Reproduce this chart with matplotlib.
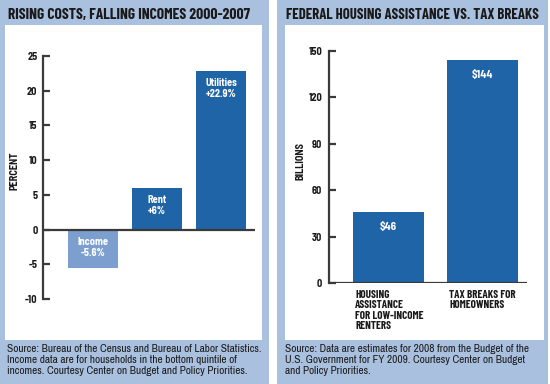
import matplotlib
matplotlib.use("Agg")
import matplotlib.pyplot as plt
from matplotlib.patches import Rectangle
from matplotlib import transforms

# ---------------- data ----------------
left_title = "RISING COSTS, FALLING INCOMES 2000-2007"
left_categories = ["Income", "Rent", "Utilities"]
left_values = [-5.6, 6.0, 22.9]
left_value_labels = ["-5.6%", "+6%", "+22.9%"]
left_ticks = [-10, -5, 0, 5, 10, 15, 20, 25]
left_ylabel = "PERCENT"
left_source = ("Source: Bureau of the Census and Bureau of Labor Statistics.\n"
               "Income data are for households in the bottom quintile of\n"
               "incomes. Courtesy Center on Budget and Policy Priorities.")

right_title = "FEDERAL HOUSING ASSISTANCE VS. TAX BREAKS"
right_categories = ["HOUSING\nASSISTANCE\nFOR LOW-INCOME\nRENTERS", "TAX BREAKS FOR\nHOMEOWNERS"]
right_values = [46, 144]
right_value_labels = ["$46", "$144"]
right_ticks = [0, 30, 60, 90, 120, 150]
right_ylabel = "BILLIONS"
right_source = ("Source: Data are estimates for 2008 from the Budget of the\n"
                "U.S. Government for FY 2009. Courtesy Center on Budget\n"
                "and Policy Priorities.")

# ---------------- style ----------------
PANEL = "#a9c0df"
BAR = "#1f64a6"
BAR_LIGHT = "#7c9fcf"
DARK = "#3a3a3a"
INK = "#1a1a1a"
W, H = 550, 384
TITLE_FONT = ["Barlow Condensed", "DejaVu Sans"]
SRC_FONT = ["Archivo Narrow", "DejaVu Sans"]
LBL_FONT = ["Barlow Semi Condensed", "DejaVu Sans"]

fig = plt.figure(figsize=(W / 100, H / 100), dpi=100)
fig.patch.set_facecolor("white")


def fx(x):
    return x / W


def fy(y):
    return 1 - y / H


def rect(x0, y0, x1, y1, color):
    fig.patches.append(Rectangle((x0 / W, 1 - y1 / H), (x1 - x0) / W, (y1 - y0) / H,
                                 transform=fig.transFigure, facecolor=color,
                                 edgecolor="none", zorder=-10))


# panels
rect(0, 0, 269, 384, PANEL)
rect(5, 25, 262, 340, "white")
rect(277, 0, 548, 384, PANEL)
rect(285, 25, 544, 340, "white")

# titles
fig.text(fx(8), fy(15), left_title, family=TITLE_FONT, weight="bold", fontsize=11.2,
         color=INK, va="center", ha="left")
fig.text(fx(286), fy(15), right_title, family=TITLE_FONT, weight="bold", fontsize=10.7,
         color=INK, va="center", ha="left")

# sources
fig.text(fx(7), fy(344), left_source, family=SRC_FONT, fontsize=8.1, color=INK,
         va="top", ha="left", linespacing=1.15)
fig.text(fx(285), fy(344), right_source, family=SRC_FONT, fontsize=8.1, color=INK,
         va="top", ha="left", linespacing=1.15)

# axis titles
fig.text(fx(14), fy(171), left_ylabel, family=LBL_FONT, weight="bold", fontsize=7.5,
         color=INK, rotation=90, ha="center", va="center")
fig.text(fx(300), fy(161), right_ylabel, family=LBL_FONT, weight="bold", fontsize=7.5,
         color=INK, rotation=90, ha="center", va="center")


def make_axes(spine_x, right_x, top_px, bottom_px, v_hi, y_hi, v_lo, y_lo,
              first_center, spacing):
    ppu = (y_lo - y_hi) / (v_hi - v_lo)
    ytop = v_hi + (y_hi - top_px) / ppu
    ybot = v_lo - (bottom_px - y_lo) / ppu
    ax = fig.add_axes([fx(spine_x), fy(bottom_px), (right_x - spine_x) / W,
                       (bottom_px - top_px) / H])
    ax.set_ylim(ybot, ytop)
    ax.set_xlim(-(first_center - spine_x) / spacing, (right_x - first_center) / spacing)
    ax.patch.set_alpha(0)
    for s in ["top", "right", "bottom"]:
        ax.spines[s].set_visible(False)
    ax.spines["left"].set_color(DARK)
    ax.spines["left"].set_linewidth(1.6)
    ax.spines["left"].set_bounds(v_lo, v_hi)
    ax.tick_params(axis="y", direction="in", length=5, width=1.6, color=DARK,
                   labelsize=7.5, pad=4, labelcolor=INK)
    ax.set_xticks([])
    return ax


# ---------------- left chart ----------------
axL = make_axes(43, 255, 40, 310, 25, 56, -10, 299, 93, 64)
xs = list(range(len(left_categories)))
colors = [BAR_LIGHT if v < 0 else BAR for v in left_values]
axL.bar(xs, left_values, width=50 / 64, color=colors, zorder=2)
axL.axhline(0, color=DARK, lw=1.6, zorder=3)
axL.set_yticks(left_ticks)
axL.set_yticklabels([str(t) for t in left_ticks], fontweight="bold", family=LBL_FONT)
for x, v, c, lab in zip(xs, left_values, left_categories, left_value_labels):
    top = max(v, 0)
    axL.annotate(c + "\n" + lab, (x, top), xytext=(0, -5), textcoords="offset points",
                 ha="center", va="top", color="white", fontsize=7.5, family=LBL_FONT,
                 fontweight="bold", linespacing=1.15, zorder=4)

# ---------------- right chart ----------------
axR = make_axes(329, 527, 40, 283, 150, 51, 0, 283, 388.5, 94)
xr = list(range(len(right_categories)))
axR.bar(xr, right_values, width=71 / 94, color=BAR, zorder=2)
axR.axhline(0, color=DARK, lw=1.6, zorder=3)
axR.set_yticks(right_ticks)
axR.set_yticklabels([str(t) for t in right_ticks], fontweight="bold", family=LBL_FONT)
axR.tick_params(axis="y", pad=5)
for x, v, lab in zip(xr, right_values, right_value_labels):
    axR.annotate(lab, (x, v), xytext=(0, -7), textcoords="offset points",
                 ha="center", va="top", color="white", fontsize=8, family=LBL_FONT,
                 fontweight="bold", zorder=4)
trans = transforms.blended_transform_factory(axR.transData, axR.transAxes)
for x, c in zip(xr, right_categories):
    axR.annotate(c, (x - 0.5 * 71 / 94, 0), xycoords=trans, xytext=(1.5, -5),
                 textcoords="offset points", ha="left", va="top",
                 fontsize=8, family=TITLE_FONT, fontweight="bold", color=INK,
                 linespacing=1.05, annotation_clip=False)

fig.savefig("out.png", dpi=100, facecolor=fig.get_facecolor())
